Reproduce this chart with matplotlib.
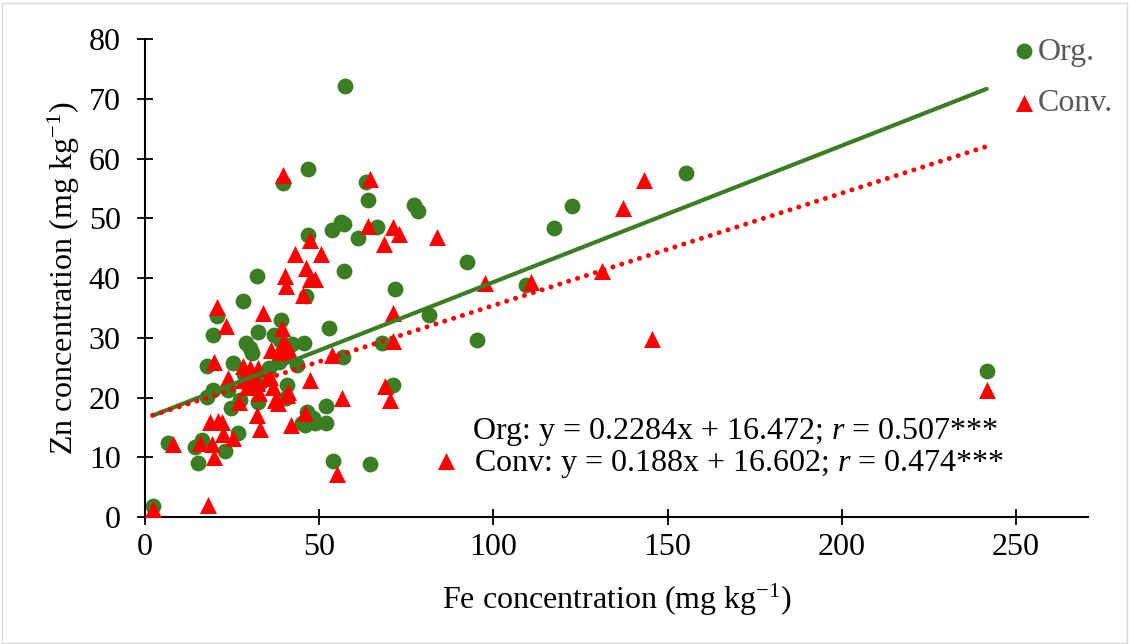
import matplotlib.pyplot as plt
import matplotlib.patches as patches
import numpy as np

plt.rcParams['font.family'] = ['Liberation Serif', 'DejaVu Serif']
plt.rcParams['mathtext.fontset'] = 'custom'
plt.rcParams['mathtext.rm'] = 'Liberation Serif'
plt.rcParams['mathtext.it'] = 'Liberation Serif:italic'

# Organic samples (Fe, Zn)
org_fe = [2.4, 6.7, 14.4, 15.3, 16.3, 17.7, 17.7, 19.4, 19.6, 20.8, 23.0, 23.9, 24.8,
          25.4, 26.8, 27.3, 28.2, 29.0, 30.1, 30.6, 32.5, 32.3, 32.5, 33.0, 39.0, 38.7,
          39.5, 40.7, 42.1, 45.7, 46.2, 46.9, 46.8, 46.4, 47.4, 48.3, 45.9, 45.0, 48.8,
          52.0, 52.0, 52.9, 53.8, 54.0, 56.4, 57.2, 57.0, 56.9, 57.4, 61.2, 63.4, 63.9,
          64.7, 66.5, 67.9, 71.1, 71.9, 77.1, 78.4, 81.6, 92.3, 95.2, 109.4, 117.3,
          122.7, 155.4, 241.6, 28.5, 31.0, 35.5, 38.5, 43.5, 40.5, 37.0]
org_zn = [1.8, 12.4, 11.8, 9.0, 12.9, 20.1, 25.2, 30.5, 21.3, 33.6, 11.1, 21.2, 18.2,
          25.7, 14.0, 19.6, 36.1, 29.1, 28.3, 27.4, 19.3, 40.3, 31.0, 22.4, 33.0, 29.6,
          55.9, 22.1, 28.9, 29.1, 37.0, 47.2, 58.2, 17.6, 16.8, 16.5, 15.4, 15.7, 15.7,
          18.6, 15.7, 31.6, 48.0, 9.3, 49.3, 49.1, 41.1, 26.8, 72.1, 46.7, 56.1, 53.1,
          8.8, 48.6, 29.2, 22.1, 38.1, 52.2, 51.3, 33.8, 42.7, 29.7, 38.9, 48.4,
          52.0, 57.5, 24.5, 24.0, 22.0, 25.0, 26.0, 25.5, 20.0, 30.5]

# Conventional samples (Fe, Zn)
conv_fe = [2.2, 8.1, 15.8, 18.2, 18.7, 19.1, 19.8, 19.8, 20.7, 21.0, 22.0, 22.5, 23.2,
           23.8, 25.3, 27.1, 28.0, 28.0, 29.2, 30.1, 31.1, 32.1, 32.1, 32.5, 32.8, 33.0,
           33.8, 35.4, 35.9, 36.1, 36.8, 37.3, 38.3, 38.7, 39.4, 39.5, 39.6, 40.2, 40.4,
           40.7, 40.7, 41.0, 41.6, 41.9, 43.1, 45.4, 45.9, 46.1, 47.4, 47.4, 47.5, 48.8,
           50.5, 53.6, 55.0, 56.7, 64.0, 64.6, 68.7, 68.9, 70.3, 71.1, 71.1, 71.2, 72.8,
           83.9, 86.4, 97.5, 110.8, 131.3, 137.1, 143.2, 145.4, 241.8]
conv_zn = [1.4, 12.3, 12.4, 2.0, 15.9, 12.3, 10.1, 25.9, 35.1, 16.1, 15.9, 13.9, 32.0,
           23.2, 13.2, 19.3, 25.2, 23.0, 21.7, 25.0, 23.5, 17.0, 22.4, 25.0, 20.8, 14.8,
           34.2, 23.2, 23.5, 27.9, 21.8, 19.6, 19.0, 27.6, 31.7, 29.3, 57.2, 40.3, 38.6,
           28.5, 20.4, 21.0, 27.6, 15.4, 44.0, 37.2, 17.4, 41.7, 46.3, 39.9, 22.9, 39.9,
           44.1, 27.1, 7.2, 19.9, 48.7, 56.6, 45.7, 22.0, 19.6, 48.5, 29.4, 34.1, 47.3,
           46.8, 9.4, 39.1, 39.4, 41.2, 51.7, 56.4, 29.8, 21.3]

# trendline coefficients (slope, intercept) as printed on the chart
org_fit = (0.2284, 16.472)
conv_fit = (0.188, 16.602)

green = '#3b7d23'
red = '#ff0000'
fs = 23

fig = plt.figure(figsize=(11.29, 6.44), dpi=100)
ax = fig.add_axes([0.1284, 0.1972, 0.8353, 0.7422])

ax.scatter(org_fe, org_zn, s=130, marker='o', color=green, linewidths=0, zorder=2, label='Org.')
ax.scatter(conv_fe, conv_zn, s=150, marker='^', color=red, linewidths=0, zorder=3, label='Conv.')

xo = np.array([min(org_fe), max(org_fe)])
ax.plot(xo, org_fit[0] * xo + org_fit[1], color=green, lw=3, solid_capstyle='round', zorder=4)
xc = np.array([min(conv_fe), max(conv_fe)])
ax.plot(xc, conv_fit[0] * xc + conv_fit[1], color=red, lw=3.6,
        linestyle=(0, (0.01, 1.85)), dash_capstyle='round', zorder=4)

ax.set_xlim(0, 270.7)
ax.set_ylim(0, 80)
ax.set_xticks([0, 50, 100, 150, 200, 250])
ax.set_yticks(range(0, 81, 10))
for s in ['top', 'right']:
    ax.spines[s].set_visible(False)
for s in ['left', 'bottom']:
    ax.spines[s].set_linewidth(1.5)
ax.tick_params(direction='inout', length=11, width=1.3, labelsize=fs)
ax.tick_params(axis='y', pad=12)
ax.tick_params(axis='x', pad=6)

ax.set_xlabel('Fe concentration (mg kg$^{\\mathrm{-1}}$)', fontsize=fs, labelpad=14)
ax.set_ylabel('Zn concentration (mg kg$^{\\mathrm{-1}}$)', fontsize=fs, labelpad=5)

ax.text(94, 14.2, 'Org: y = 0.2284x + 16.472; $r$ = 0.507***', fontsize=fs, va='center')
ax.text(94.5, 8.9, 'Conv: y = 0.188x + 16.602; $r$ = 0.474***', fontsize=fs, va='center')

fig.legend(loc='upper left', bbox_to_anchor=(0.884, 0.962), frameon=False, fontsize=fs,
           labelcolor='#595959', handletextpad=0.05, labelspacing=0.7, handlelength=0.8,
           borderaxespad=0)

fig.patches.append(patches.Rectangle((0.002, 0.002), 0.996, 0.994, transform=fig.transFigure,
                                     fill=False, edgecolor='#d9d9d9', lw=1))

fig.savefig('out.png', dpi=100)
